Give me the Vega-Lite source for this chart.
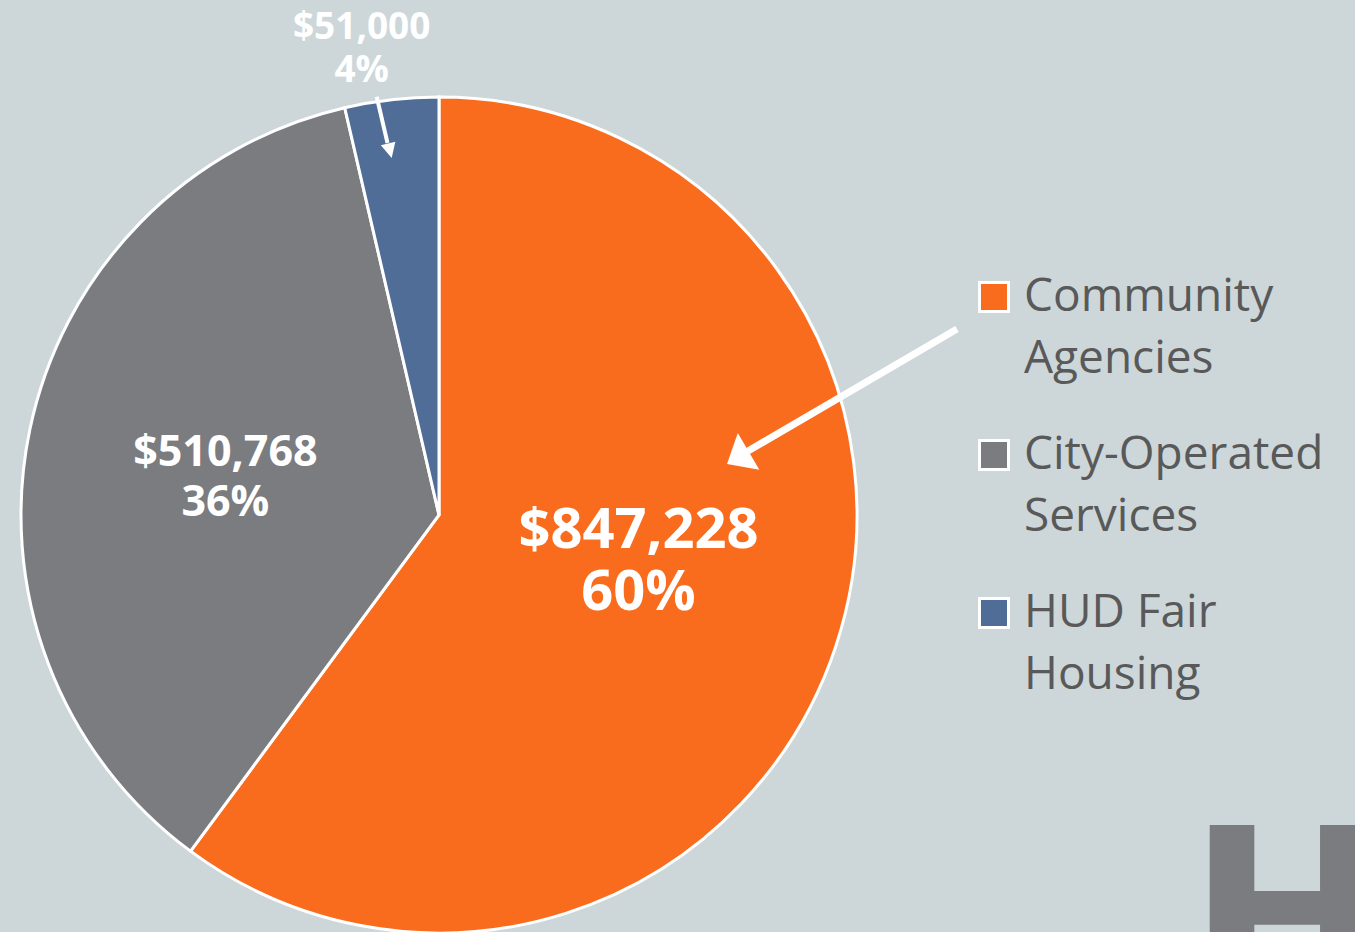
{
  "$schema": "https://vega.github.io/schema/vega-lite/v6.json",
  "width": 836,
  "height": 836,
  "autosize": "none",
  "padding": {"left": 21, "top": 97, "right": 498, "bottom": 0},
  "background": "#CDD7DA",
  "config": {"view": {"stroke": null}},
  "datasets": {
    "slices": [
      {"category": "Community Agencies", "amount": 847228, "rank": 1, "label": "$847,228\n60%"},
      {"category": "City-Operated Services", "amount": 510768, "rank": 2, "label": "$510,768\n36%"},
      {"category": "HUD Fair Housing", "amount": 51000, "rank": 3, "label": "$51,000\n4%"}
    ],
    "arrows": [
      {"arrow": "big", "x": 518, "y": 186, "x2": 309, "y2": 64, "tipX": 288, "tipY": 51},
      {"arrow": "small", "x": -62.3, "y": 418.3, "x2": -51.5, "y2": 372, "tipX": -47.3, "tipY": 357}
    ],
    "logo": [{"letter": "H", "x": 749, "y": -483}]
  },
  "data": {"name": "slices"},
  "layer": [
    {
      "mark": {"type": "arc", "stroke": "white", "strokeWidth": 3},
      "encoding": {
        "theta": {"field": "amount", "type": "quantitative", "stack": true},
        "order": {"field": "rank", "type": "quantitative"},
        "color": {
          "field": "category",
          "type": "nominal",
          "scale": {
            "domain": ["Community Agencies", "City-Operated Services", "HUD Fair Housing"],
            "range": ["#F96C1D", "#7B7C80", "#4F6D96"]
          },
          "legend": {
            "title": null,
            "orient": "none",
            "legendX": 950,
            "legendY": 177,
            "padding": 0,
            "symbolType": "square",
            "symbolSize": 841,
            "symbolStrokeColor": "white",
            "symbolStrokeWidth": 3,
            "symbolOpacity": 1,
            "labelFont": "Open Sans",
            "labelFontSize": 46,
            "labelFontWeight": 500,
            "labelColor": "#595959",
            "labelOffset": 7,
            "labelLimit": 500,
            "rowPadding": 50,
            "labelExpr": "datum.label == 'Community Agencies' ? ['Community', 'Agencies'] : datum.label == 'City-Operated Services' ? ['City-Operated', 'Services'] : ['HUD Fair', 'Housing']",
            "encode": {"labels": {"update": {"lineHeight": {"value": 62}}}}
          }
        }
      }
    },
    {
      "mark": {"type": "text", "radius": 210, "font": "Open Sans", "fontWeight": "bold", "fontSize": 56, "fill": "white", "lineBreak": "\n", "lineHeight": 62, "dx": 0, "dy": -33, "align": "center", "baseline": "alphabetic"},
      "encoding": {
        "theta": {"field": "amount", "type": "quantitative", "stack": true},
        "order": {"field": "rank", "type": "quantitative"},
        "text": {"condition": {"test": "datum.category === 'Community Agencies'", "field": "label"}, "value": ""}
      }
    },
    {
      "mark": {"type": "text", "radius": 210, "font": "Open Sans", "fontWeight": "bold", "fontSize": 43, "fill": "white", "lineBreak": "\n", "lineHeight": 50, "dx": -8, "dy": -6, "align": "center", "baseline": "alphabetic"},
      "encoding": {
        "theta": {"field": "amount", "type": "quantitative", "stack": true},
        "order": {"field": "rank", "type": "quantitative"},
        "text": {"condition": {"test": "datum.category === 'City-Operated Services'", "field": "label"}, "value": ""}
      }
    },
    {
      "mark": {"type": "text", "radius": 470, "font": "Open Sans", "fontWeight": "bold", "fontSize": 37, "fill": "white", "lineBreak": "\n", "lineHeight": 43, "dx": -24, "dy": -9, "align": "center", "baseline": "alphabetic"},
      "encoding": {
        "theta": {"field": "amount", "type": "quantitative", "stack": true},
        "order": {"field": "rank", "type": "quantitative"},
        "text": {"condition": {"test": "datum.category === 'HUD Fair Housing'", "field": "label"}, "value": ""}
      }
    },
    {
      "data": {"name": "arrows"},
      "transform": [{"filter": "datum.arrow === 'big'"}],
      "mark": {"type": "rule", "color": "white", "strokeWidth": 7, "strokeCap": "butt"},
      "encoding": {
        "x": {"field": "x", "type": "quantitative", "scale": {"domain": [-418, 418], "nice": false, "zero": false}, "axis": null},
        "y": {"field": "y", "type": "quantitative", "scale": {"domain": [-418, 418], "nice": false, "zero": false}, "axis": null},
        "x2": {"field": "x2"},
        "y2": {"field": "y2"}
      }
    },
    {
      "data": {"name": "arrows"},
      "transform": [{"filter": "datum.arrow === 'small'"}],
      "mark": {"type": "rule", "color": "white", "strokeWidth": 4, "strokeCap": "butt"},
      "encoding": {
        "x": {"field": "x", "type": "quantitative", "axis": null},
        "y": {"field": "y", "type": "quantitative", "axis": null},
        "x2": {"field": "x2"},
        "y2": {"field": "y2"}
      }
    },
    {
      "data": {"name": "arrows"},
      "transform": [{"filter": "datum.arrow === 'big'"}],
      "mark": {"type": "point", "shape": "M0,0L0.85,1L-0.85,1Z", "size": 2500, "angle": 239.6, "filled": true, "fill": "white", "opacity": 1, "strokeWidth": 0},
      "encoding": {
        "x": {"field": "tipX", "type": "quantitative", "axis": null},
        "y": {"field": "tipY", "type": "quantitative", "axis": null}
      }
    },
    {
      "data": {"name": "arrows"},
      "transform": [{"filter": "datum.arrow === 'small'"}],
      "mark": {"type": "point", "shape": "M0,0L0.5,1L-0.5,1Z", "size": 900, "angle": 166, "filled": true, "fill": "white", "opacity": 1, "strokeWidth": 0},
      "encoding": {
        "x": {"field": "tipX", "type": "quantitative", "axis": null},
        "y": {"field": "tipY", "type": "quantitative", "axis": null}
      }
    },
    {
      "data": {"name": "logo"},
      "mark": {"type": "text", "font": "DejaVu Sans", "fontWeight": "bold", "fontSize": 237, "fill": "#7B7C80", "align": "left", "baseline": "alphabetic"},
      "encoding": {
        "x": {"field": "x", "type": "quantitative", "axis": null},
        "y": {"field": "y", "type": "quantitative", "axis": null},
        "text": {"field": "letter"}
      }
    }
  ]
}
